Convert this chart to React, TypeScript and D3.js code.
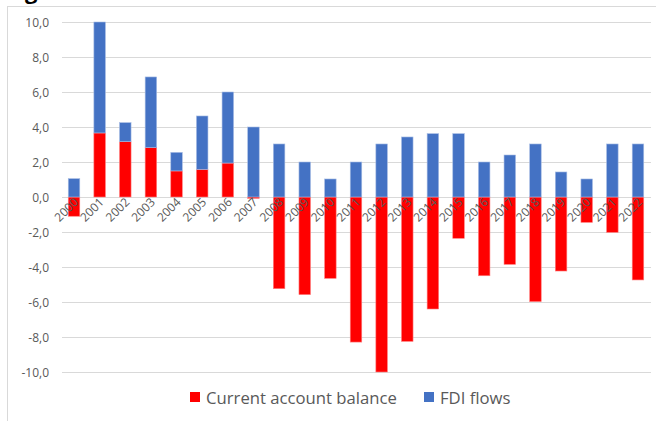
import { useEffect, useRef } from 'react';
import * as d3 from 'd3';

const years = [
    '2000', '2001', '2002', '2003', '2004', '2005', '2006', '2007', '2008', '2009', '2010', '2011',
    '2012', '2013', '2014', '2015', '2016', '2017', '2018', '2019', '2020', '2021', '2022',
];
const currentAccount = [
    -1.1, 3.66, 3.16, 2.82, 1.49, 1.58, 1.94, -0.08, -5.24, -5.58, -4.65, -8.29,
    -10.0, -8.25, -6.4, -2.36, -4.5, -3.85, -5.98, -4.23, -1.45, -2.02, -4.74,
];
const fdiFlows = [
    1.05, 6.34, 1.09, 4.04, 1.06, 3.05, 4.06, 4.0, 3.03, 2.0, 1.03, 2.0,
    3.03, 3.43, 3.62, 3.62, 2.0, 2.4, 3.03, 1.43, 1.03, 3.03, 3.03,
];
const yTicks = [-10, -8, -6, -4, -2, 0, 2, 4, 6, 8, 10];
const seriesNames = ['Current account balance', 'FDI flows'];
const seriesColors = ['#ff0000', '#4472c4'];

export default function App() {
    const svgRef = useRef<SVGSVGElement>(null);

    useEffect(() => {
        if (!svgRef.current) return;
        const width = 658;
        const height = 421;
        const svg = d3.select(svgRef.current);
        svg.selectAll('*').remove();

        const font = '"Open Sans", "DejaVu Sans", sans-serif';
        const grey = '#595959';

        // frame of the chart area
        svg.append('line')
            .attr('x1', 7.5).attr('x2', 7.5).attr('y1', 6).attr('y2', height)
            .attr('stroke', '#d9d9d9');
        svg.append('line')
            .attr('x1', 7).attr('x2', 656).attr('y1', 6.5).attr('y2', 6.5)
            .attr('stroke', '#d9d9d9');

        // clipped title remnant (cut off at the top, as in the source)
        svg.append('text')
            .attr('x', 25).attr('y', -1)
            .attr('font-family', font)
            .attr('font-size', 22)
            .attr('font-weight', 'bold')
            .attr('fill', '#000')
            .text('g');

        const x = d3.scaleBand<string>()
            .domain(years)
            .range([61.2, 650.8])
            .paddingInner(0.55)
            .paddingOuter(0.275);

        const y = d3.scaleLinear()
            .domain([-10, 10])
            .range([372, 22]);

        // grid
        svg.append('g')
            .selectAll('line')
            .data(yTicks)
            .enter()
            .append('line')
            .attr('x1', 62)
            .attr('x2', 651)
            .attr('y1', d => Math.round(y(d)) + 0.5)
            .attr('y2', d => Math.round(y(d)) + 0.5)
            .attr('stroke', '#d9d9d9')
            .attr('stroke-width', 1);

        // y labels
        svg.append('g')
            .selectAll('text')
            .data(yTicks)
            .enter()
            .append('text')
            .attr('x', 49)
            .attr('y', d => y(d) + 4.5)
            .attr('text-anchor', 'end')
            .attr('font-family', font)
            .attr('font-size', 12)
            .attr('fill', grey)
            .text(d => d3.format('.1f')(d).replace('.', ',').replace('−', '-'));

        // stacked bars
        const rows = years.map((yr, i) => ({ year: yr, ca: currentAccount[i], fdi: fdiFlows[i] }));
        const stack = d3.stack<{ year: string; ca: number; fdi: number }>()
            .keys(['ca', 'fdi'])
            .offset(d3.stackOffsetDiverging);
        const layers = stack(rows);

        layers.forEach((layer, li) => {
            svg.append('g')
                .selectAll('rect')
                .data(layer)
                .enter()
                .append('rect')
                .attr('x', d => x(d.data.year)!)
                .attr('width', x.bandwidth())
                .attr('y', d => y(Math.max(d[0], d[1])))
                .attr('height', d => Math.abs(y(d[0]) - y(d[1])))
                .attr('fill', seriesColors[li])
                .attr('stroke', li === 1 ? '#a8bde4' : '#ff8080')
                .attr('stroke-width', 0.6);
        });

        // x labels
        svg.append('g')
            .selectAll('text')
            .data(years)
            .enter()
            .append('text')
            .attr('transform', d => `translate(${x(d)! + x.bandwidth() / 2 + 5},${y(0) + 6}) rotate(-45)`)
            .attr('text-anchor', 'end')
            .attr('font-family', font)
            .attr('font-size', 12)
            .attr('fill', grey)
            .text(d => d);

        // legend
        const legend = svg.append('g');
        const legendItems = [
            { name: seriesNames[0], color: seriesColors[0], x: 190 },
            { name: seriesNames[1], color: seriesColors[1], x: 424 },
        ];
        legendItems.forEach(item => {
            legend.append('rect')
                .attr('x', item.x).attr('y', 392)
                .attr('width', 10).attr('height', 10)
                .attr('fill', item.color);
            legend.append('text')
                .attr('x', item.x + 16).attr('y', 403.5)
                .attr('font-family', font)
                .attr('font-size', 16.7)
                .attr('fill', grey)
                .text(item.name);
        });

        svg.attr('width', width).attr('height', height);
    }, []);

    return (
        <svg
            ref={svgRef}
            width={658}
            height={421}
            style={{ position: 'absolute', left: 0, top: 0, background: '#fff' }}
        />
    );
}
